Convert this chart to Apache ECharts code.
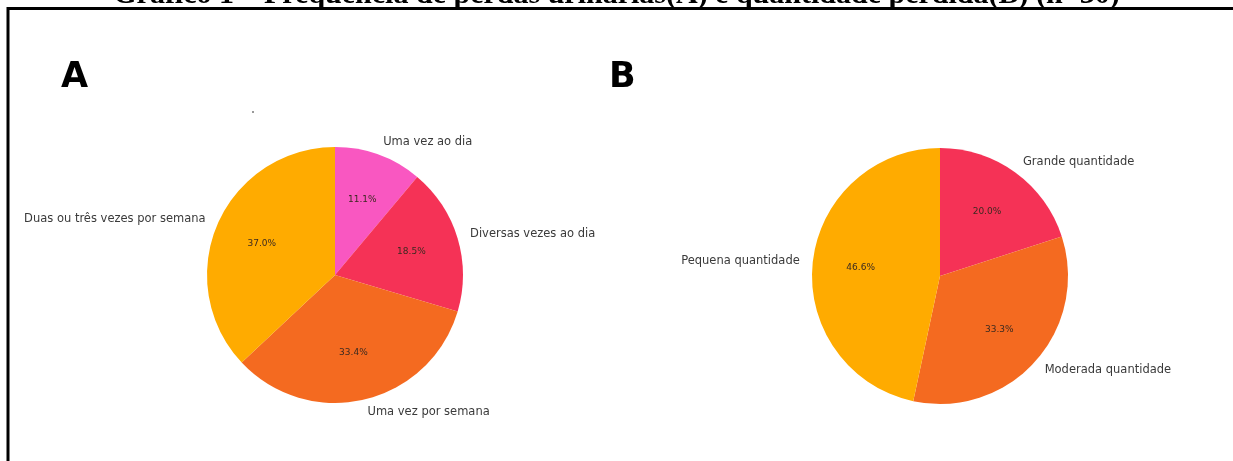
<!DOCTYPE html>
<html>
<head>
<meta charset="utf-8">
<title>Gráfico 1</title>
<script src="https://cdn.jsdelivr.net/npm/echarts@6/dist/echarts.min.js"></script>
<style>
  html, body { margin: 0; padding: 0; background: #fff; }
  #chart { width: 1233px; height: 461px; }
</style>
</head>
<body>
<div id="chart"></div>
<script>
// dados do gráfico A (frequência) e B (quantidade)
const freqCategories = ['Uma vez ao dia', 'Diversas vezes ao dia', 'Uma vez por semana', 'Duas ou três vezes por semana'];
const freqValues = [11.1, 18.5, 33.4, 37.0];
const freqColors = ['#F957C1', '#F53256', '#F46A20', '#FFAB00'];

const qtyCategories = ['Grande quantidade', 'Moderada quantidade', 'Pequena quantidade'];
const qtyValues = [20.0, 33.3, 46.6];
const qtyColors = ['#F53256', '#F46A20', '#FFAB00'];

const labelFont = 'DejaVu Sans';
const R = 128;

const toData = (cats, vals, colors) => cats.map((c, i) => ({
    name: c, value: vals[i], itemStyle: {color: colors[i]}
}));

// fatia com o nome por fora (estilo matplotlib)
const outerSeries = (center, data) => ({
    type: 'pie',
    center: center,
    radius: R,
    startAngle: 90,
    clockwise: true,
    avoidLabelOverlap: false,
    silent: true,
    data: data,
    label: {
        show: true,
        position: 'outside',
        formatter: '{b}',
        fontFamily: labelFont,
        fontSize: 11.5,
        color: '#3a3a3a'
    },
    labelLine: {show: false, length: 13, length2: -5}
});

// camada transparente só para o percentual a 0.6 do raio
const pctSeries = (center, data) => ({
    type: 'pie',
    center: center,
    radius: [R * 0.2, R],
    startAngle: 90,
    clockwise: true,
    silent: true,
    data: data.map(d => ({name: d.name, value: d.value, itemStyle: {color: 'rgba(0,0,0,0)'}})),
    label: {
        show: true,
        position: 'inside',
        formatter: p => p.value.toFixed(1) + '%',
        fontFamily: labelFont,
        fontSize: 9,
        color: '#3b2a20'
    },
    labelLine: {show: false}
});

const dataA = toData(freqCategories, freqValues, freqColors);
const dataB = toData(qtyCategories, qtyValues, qtyColors);

const chart = echarts.init(document.getElementById('chart'));
chart.setOption({
    backgroundColor: '#fff',
    animation: false,
    graphic: [
        {
            type: 'text', left: 'center', top: -20,
            style: {
                text: 'Gráfico 1 – Frequência de perdas urinárias(A) e quantidade perdida(B) (n=30)',
                font: 'bold 30px "Liberation Serif"', fill: '#000'
            }
        },
        {type: 'line', shape: {x1: 7, y1: 8.5, x2: 1233, y2: 8.5}, style: {stroke: '#000', lineWidth: 3}},
        {type: 'line', shape: {x1: 8, y1: 7, x2: 8, y2: 461}, style: {stroke: '#000', lineWidth: 3}},
        {type: 'text', x: 61, y: 60, style: {text: 'A', font: 'bold 35px "DejaVu Sans"', fill: '#000'}},
        {type: 'text', x: 609, y: 60, style: {text: 'B', font: 'bold 35px "DejaVu Sans"', fill: '#000'}},
        {type: 'circle', shape: {cx: 253, cy: 112, r: 1}, style: {fill: '#777'}}
    ],
    series: [
        outerSeries([335, 275], dataA),
        pctSeries([335, 275], dataA),
        outerSeries([940, 276], dataB),
        pctSeries([940, 276], dataB)
    ]
});
</script>
</body>
</html>
